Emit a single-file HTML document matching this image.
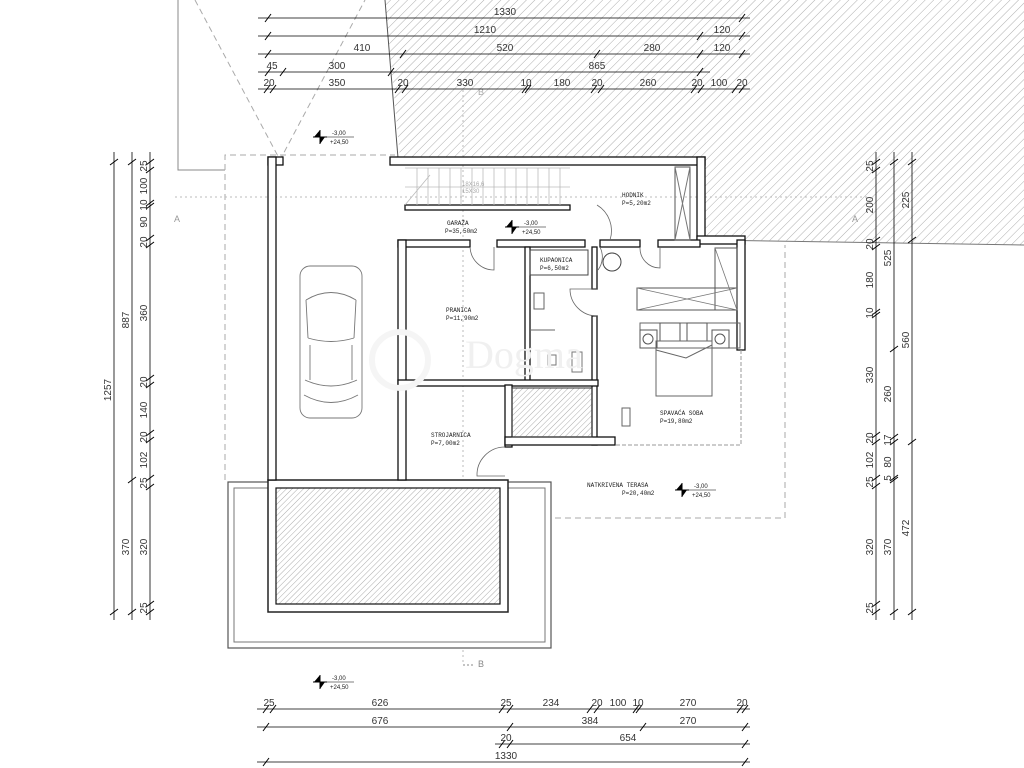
<!DOCTYPE html>
<html><head><meta charset="utf-8"><style>
html,body{margin:0;padding:0;background:#fff;width:1024px;height:768px;overflow:hidden}
svg{display:block}
text{font-family:"Liberation Sans",sans-serif;fill:#444}
.d{font-size:10px;fill:#333}
.r{font-family:"Liberation Mono",monospace;font-size:6px;fill:#222}
</style></head><body>
<svg width="1024" height="768" viewBox="0 0 1024 768" xmlns="http://www.w3.org/2000/svg">
<defs>
<pattern id="h" width="6" height="6" patternUnits="userSpaceOnUse" patternTransform="rotate(45)">
<line x1="0" y1="0" x2="0" y2="6" stroke="#999" stroke-width="0.8"/></pattern>
<pattern id="h2" width="4" height="4" patternUnits="userSpaceOnUse" patternTransform="rotate(45)">
<line x1="0" y1="0" x2="0" y2="4" stroke="#888" stroke-width="0.7"/></pattern>
<g id="tk"><line x1="-3" y1="4" x2="3" y2="-4" stroke="#000" stroke-width="1"/></g>
<g id="tv"><line x1="-4" y1="3" x2="4" y2="-3" stroke="#000" stroke-width="1"/></g>
<g id="elev"><path d="M0,-7 L0,7 M-7,0 L7,0" stroke="#000" stroke-width="1"/><path d="M0,-7 L-6,0 L0,0Z M0,0 L0,7 L5,0Z" fill="#000"/><line x1="3" y1="0" x2="34" y2="0" stroke="#000" stroke-width="0.6"/><text x="12" y="-2" style="font-size:6px;fill:#222">-3,00</text><text x="10" y="7" style="font-size:6px;fill:#222">+24,50</text></g>
</defs>

<path d="M385,0 L1024,0 L1024,245 L750,240 L705,240 L705,157 L400,157 Z" fill="url(#h)"/>
<line x1="385" y1="0" x2="398" y2="158" stroke="#555" stroke-width="1"/>
<line x1="705" y1="240" x2="1024" y2="245" stroke="#777" stroke-width="1"/>
<path d="M178,0 L178,170 L225,170" fill="none" stroke="#888" stroke-width="1"/>
<path d="M195,0 L280,160 L365,0" fill="none" stroke="#aaa" stroke-width="1" stroke-dasharray="6,4"/>
<path d="M225,480 L225,155 L395,155" fill="none" stroke="#aaa" stroke-dasharray="6,4"/>
<path d="M505,518 L785,518 L785,245" fill="none" stroke="#aaa" stroke-dasharray="6,4"/>
<path d="M228,612 L268,612" fill="none" stroke="#aaa" stroke-dasharray="6,4"/>
<line x1="175" y1="197" x2="870" y2="197" stroke="#bbb" stroke-dasharray="2,3"/>
<text x="174" y="222" style="font-size:9px;fill:#999">A</text>
<text x="852" y="222" style="font-size:9px;fill:#999">A</text>
<line x1="463" y1="90" x2="463" y2="665" stroke="#bbb" stroke-dasharray="2,3"/>
<text x="478" y="95" style="font-size:9px;fill:#aaa">B</text>
<text x="478" y="667" style="font-size:9px;fill:#888">B</text>
<line x1="463" y1="665" x2="474" y2="665" stroke="#888" stroke-dasharray="2,2"/>

<rect x="228" y="482" width="323" height="166" fill="#fff" stroke="#555" stroke-width="1.2"/>
<rect x="234" y="488" width="311" height="154" fill="none" stroke="#777" stroke-width="1"/>
<rect x="268" y="480" width="240" height="132" fill="#fff" stroke="#222" stroke-width="1.5"/>
<rect x="276" y="488" width="224" height="116" fill="url(#h2)" stroke="#111" stroke-width="1.2"/>

<g fill="#fff" stroke="#111" stroke-width="1.3">
<rect x="268" y="157" width="15" height="8"/>
<rect x="390" y="157" width="315" height="8"/>
<rect x="268" y="157" width="8" height="323"/>
<rect x="697" y="157" width="8" height="83"/>
<rect x="697" y="236" width="48" height="8"/>
<rect x="737" y="240" width="8" height="110"/>
<rect x="398" y="240" width="72" height="7"/>
<rect x="497" y="240" width="88" height="7"/>
<rect x="600" y="240" width="40" height="7"/>
<rect x="658" y="240" width="42" height="7"/>
<rect x="398" y="240" width="8" height="240"/>
<rect x="525" y="247" width="5" height="135"/>
<rect x="592" y="247" width="5" height="42"/>
<rect x="592" y="316" width="5" height="129"/>
<rect x="398" y="380" width="200" height="6"/>
<rect x="505" y="385" width="7" height="62"/>
<rect x="505" y="437" width="110" height="8"/>
<rect x="405" y="205" width="165" height="5"/>
</g>
<path d="M741,350 L741,445 L615,445" fill="none" stroke="#999" stroke-width="1" stroke-dasharray="4,2"/>
<rect x="512" y="388" width="80" height="49" fill="url(#h2)" stroke="#333"/>
<g stroke="#bbb" stroke-width="0.8">
<line x1="405" y1="168" x2="570" y2="168"/><line x1="405" y1="187" x2="570" y2="187"/>
<line x1="405" y1="205" x2="430" y2="175"/>
</g>
<path d="M417,168v37M428,168v37M439,168v37M450,168v37M461,168v37M472,168v37M483,168v37M494,168v37M505,168v37M516,168v37M527,168v37M538,168v37M549,168v37M560,168v37" stroke="#bbb" stroke-width="0.8"/>
<text x="462" y="186" style="font-size:6px;fill:#aaa">18X16,6</text>
<text x="462" y="193" style="font-size:6px;fill:#aaa">15X30</text>
<rect x="675" y="167" width="15" height="73" fill="none" stroke="#555"/>
<path d="M675,167 L690,240 M690,167 L675,240" stroke="#777"/>
<rect x="715" y="248" width="22" height="62" fill="none" stroke="#555"/>
<rect x="637" y="288" width="100" height="22" fill="none" stroke="#555"/>
<path d="M637,288 L737,310 M637,310 L737,288 M715,248 L737,310" stroke="#777" stroke-width="0.8"/>
<rect x="640" y="323" width="100" height="25" fill="none" stroke="#666"/>
<rect x="660" y="323" width="20" height="18" fill="none" stroke="#555"/>
<rect x="687" y="323" width="20" height="18" fill="none" stroke="#555"/>
<rect x="640" y="330" width="17" height="18" fill="none" stroke="#555"/><circle cx="648" cy="339" r="5" fill="none" stroke="#555"/>
<rect x="712" y="330" width="17" height="18" fill="none" stroke="#555"/><circle cx="720" cy="339" r="5" fill="none" stroke="#555"/>
<rect x="656" y="341" width="56" height="55" fill="none" stroke="#666"/>
<path d="M656,350 L686,358 L712,345" fill="none" stroke="#666"/>
<rect x="622" y="408" width="8" height="18" fill="none" stroke="#666"/>
<rect x="530" y="250" width="58" height="25" fill="none" stroke="#444"/>
<circle cx="612" cy="262" r="9" fill="none" stroke="#444"/>
<rect x="534" y="293" width="10" height="16" fill="none" stroke="#666"/>
<line x1="530" y1="330" x2="555" y2="330" stroke="#666"/>
<rect x="548" y="355" width="8" height="10" fill="none" stroke="#777"/>
<rect x="572" y="352" width="10" height="20" fill="none" stroke="#777"/>
<g fill="none" stroke="#666" stroke-width="0.8">
<path d="M470,247 A24,24 0 0 0 494,270 L494,247"/>
<path d="M600,247 A22,22 0 0 1 598,270"/>
<path d="M640,247 A20,20 0 0 0 660,268 L660,247"/>
<path d="M597,289 L570,289 A27,27 0 0 0 597,316"/>
<path d="M505,447 A28,28 0 0 0 477,476 L505,476"/>
<path d="M597,205 A30,30 0 0 1 610,240"/>
</g>
<g fill="none" stroke="#777" stroke-width="0.9">
<rect x="300" y="266" width="62" height="152" rx="10"/>
<path d="M306,300 Q331,285 356,300 M308,338 Q331,345 354,338 M305,380 Q331,392 357,380 M306,300 L308,338 M356,300 L354,338 M310,345 L310,380 M352,345 L352,380 M304,395 Q331,410 358,395"/>
</g>
<text x="465" y="368" style="font-size:40px;fill:#f0f0f0;font-family:'Liberation Serif',serif">Dogma</text>
<circle cx="400" cy="360" r="28" fill="none" stroke="#f5f5f5" stroke-width="6"/>

<text class="r" x="447" y="225">GARAŽA</text><text class="r" x="445" y="233">P=35,50m2</text>
<text class="r" x="622" y="197">HODNIK</text><text class="r" x="622" y="205">P=5,20m2</text>
<text class="r" x="540" y="262">KUPAONICA</text><text class="r" x="540" y="270">P=6,50m2</text>
<text class="r" x="446" y="312">PRANICA</text><text class="r" x="446" y="320">P=11,90m2</text>
<text class="r" x="431" y="437">STROJARNICA</text><text class="r" x="431" y="445">P=7,00m2</text>
<text class="r" x="660" y="415">SPAVAĆA SOBA</text><text class="r" x="660" y="423">P=19,80m2</text>
<text class="r" x="587" y="487">NATKRIVENA TERASA</text><text class="r" x="622" y="495">P=20,40m2</text>

<use href="#elev" x="320" y="137"/>
<use href="#elev" x="512" y="227"/>
<use href="#elev" x="682" y="490"/>
<use href="#elev" x="320" y="682"/>

<g stroke="#000" stroke-width="0.8">
<line x1="258" y1="18" x2="750" y2="18"/><line x1="258" y1="36" x2="750" y2="36"/>
<line x1="258" y1="54" x2="750" y2="54"/><line x1="258" y1="72" x2="710" y2="72"/>
<line x1="258" y1="89" x2="750" y2="89"/>
</g>
<use href="#tk" x="268" y="18"/><use href="#tk" x="742" y="18"/>
<use href="#tk" x="268" y="36"/><use href="#tk" x="700" y="36"/><use href="#tk" x="742" y="36"/>
<use href="#tk" x="268" y="54"/><use href="#tk" x="403" y="54"/><use href="#tk" x="597" y="54"/><use href="#tk" x="700" y="54"/><use href="#tk" x="742" y="54"/>
<use href="#tk" x="268" y="72"/><use href="#tk" x="283" y="72"/><use href="#tk" x="391" y="72"/><use href="#tk" x="700" y="72"/>
<use href="#tk" x="267" y="89"/><use href="#tk" x="273" y="89"/><use href="#tk" x="398" y="89"/><use href="#tk" x="405" y="89"/><use href="#tk" x="525" y="89"/><use href="#tk" x="528" y="89"/><use href="#tk" x="594" y="89"/><use href="#tk" x="601" y="89"/><use href="#tk" x="694" y="89"/><use href="#tk" x="701" y="89"/><use href="#tk" x="735" y="89"/><use href="#tk" x="742" y="89"/>
<g text-anchor="middle">
<text class="d" x="505" y="15">1330</text>
<text class="d" x="485" y="33">1210</text><text class="d" x="722" y="33">120</text>
<text class="d" x="362" y="51">410</text><text class="d" x="505" y="51">520</text><text class="d" x="652" y="51">280</text><text class="d" x="722" y="51">120</text>
<text class="d" x="272" y="69">45</text><text class="d" x="337" y="69">300</text><text class="d" x="597" y="69">865</text>
<text class="d" x="269" y="86">20</text><text class="d" x="337" y="86">350</text><text class="d" x="403" y="86">20</text><text class="d" x="465" y="86">330</text><text class="d" x="526" y="86">10</text><text class="d" x="562" y="86">180</text><text class="d" x="597" y="86">20</text><text class="d" x="648" y="86">260</text><text class="d" x="697" y="86">20</text><text class="d" x="719" y="86">100</text><text class="d" x="742" y="86">20</text>
</g>

<g stroke="#000" stroke-width="0.8">
<line x1="257" y1="709" x2="750" y2="709"/><line x1="257" y1="727" x2="750" y2="727"/>
<line x1="495" y1="744" x2="750" y2="744"/><line x1="257" y1="762" x2="750" y2="762"/>
</g>
<use href="#tk" x="266" y="709"/><use href="#tk" x="273" y="709"/><use href="#tk" x="502" y="709"/><use href="#tk" x="510" y="709"/><use href="#tk" x="590" y="709"/><use href="#tk" x="597" y="709"/><use href="#tk" x="636" y="709"/><use href="#tk" x="639" y="709"/><use href="#tk" x="740" y="709"/><use href="#tk" x="745" y="709"/>
<use href="#tk" x="266" y="727"/><use href="#tk" x="510" y="727"/><use href="#tk" x="643" y="727"/><use href="#tk" x="745" y="727"/>
<use href="#tk" x="502" y="744"/><use href="#tk" x="510" y="744"/><use href="#tk" x="745" y="744"/>
<use href="#tk" x="266" y="762"/><use href="#tk" x="745" y="762"/>
<g text-anchor="middle">
<text class="d" x="269" y="706">25</text><text class="d" x="380" y="706">626</text><text class="d" x="506" y="706">25</text><text class="d" x="551" y="706">234</text><text class="d" x="597" y="706">20</text><text class="d" x="618" y="706">100</text><text class="d" x="638" y="706">10</text><text class="d" x="688" y="706">270</text><text class="d" x="742" y="706">20</text>
<text class="d" x="380" y="724">676</text><text class="d" x="590" y="724">384</text><text class="d" x="688" y="724">270</text>
<text class="d" x="506" y="741">20</text><text class="d" x="628" y="741">654</text>
<text class="d" x="506" y="759">1330</text>
</g>

<g stroke="#000" stroke-width="0.8">
<line x1="114" y1="152" x2="114" y2="620"/><line x1="132" y1="152" x2="132" y2="620"/><line x1="150" y1="152" x2="150" y2="620"/>
</g>
<use href="#tv" x="114" y="162"/><use href="#tv" x="114" y="612"/>
<use href="#tv" x="132" y="162"/><use href="#tv" x="132" y="480"/><use href="#tv" x="132" y="612"/>
<use href="#tv" x="150" y="162"/><use href="#tv" x="150" y="170"/><use href="#tv" x="150" y="203"/><use href="#tv" x="150" y="206"/><use href="#tv" x="150" y="238"/><use href="#tv" x="150" y="245"/><use href="#tv" x="150" y="378"/><use href="#tv" x="150" y="385"/><use href="#tv" x="150" y="433"/><use href="#tv" x="150" y="440"/><use href="#tv" x="150" y="478"/><use href="#tv" x="150" y="487"/><use href="#tv" x="150" y="604"/><use href="#tv" x="150" y="612"/>
<g text-anchor="middle">
<text class="d" transform="translate(111,390) rotate(-90)">1257</text>
<text class="d" transform="translate(129,320) rotate(-90)">887</text>
<text class="d" transform="translate(129,547) rotate(-90)">370</text>
<text class="d" transform="translate(147,166) rotate(-90)">25</text>
<text class="d" transform="translate(147,186) rotate(-90)">100</text>
<text class="d" transform="translate(147,205) rotate(-90)">10</text>
<text class="d" transform="translate(147,222) rotate(-90)">90</text>
<text class="d" transform="translate(147,242) rotate(-90)">20</text>
<text class="d" transform="translate(147,313) rotate(-90)">360</text>
<text class="d" transform="translate(147,382) rotate(-90)">20</text>
<text class="d" transform="translate(147,410) rotate(-90)">140</text>
<text class="d" transform="translate(147,437) rotate(-90)">20</text>
<text class="d" transform="translate(147,460) rotate(-90)">102</text>
<text class="d" transform="translate(147,483) rotate(-90)">25</text>
<text class="d" transform="translate(147,547) rotate(-90)">320</text>
<text class="d" transform="translate(147,608) rotate(-90)">25</text>
</g>

<g stroke="#000" stroke-width="0.8">
<line x1="876" y1="152" x2="876" y2="620"/><line x1="894" y1="152" x2="894" y2="620"/><line x1="912" y1="152" x2="912" y2="620"/>
</g>
<use href="#tv" x="876" y="162"/><use href="#tv" x="876" y="170"/><use href="#tv" x="876" y="240"/><use href="#tv" x="876" y="247"/><use href="#tv" x="876" y="312"/><use href="#tv" x="876" y="315"/><use href="#tv" x="876" y="435"/><use href="#tv" x="876" y="442"/><use href="#tv" x="876" y="478"/><use href="#tv" x="876" y="486"/><use href="#tv" x="876" y="604"/><use href="#tv" x="876" y="612"/>
<use href="#tv" x="894" y="162"/><use href="#tv" x="894" y="349"/><use href="#tv" x="894" y="437"/><use href="#tv" x="894" y="442"/><use href="#tv" x="894" y="478"/><use href="#tv" x="894" y="480"/><use href="#tv" x="894" y="612"/>
<use href="#tv" x="912" y="162"/><use href="#tv" x="912" y="240"/><use href="#tv" x="912" y="442"/><use href="#tv" x="912" y="612"/>
<g text-anchor="middle">
<text class="d" transform="translate(873,166) rotate(-90)">25</text>
<text class="d" transform="translate(873,205) rotate(-90)">200</text>
<text class="d" transform="translate(873,244) rotate(-90)">20</text>
<text class="d" transform="translate(873,280) rotate(-90)">180</text>
<text class="d" transform="translate(873,313) rotate(-90)">10</text>
<text class="d" transform="translate(873,375) rotate(-90)">330</text>
<text class="d" transform="translate(873,438) rotate(-90)">20</text>
<text class="d" transform="translate(873,460) rotate(-90)">102</text>
<text class="d" transform="translate(873,482) rotate(-90)">25</text>
<text class="d" transform="translate(873,547) rotate(-90)">320</text>
<text class="d" transform="translate(873,608) rotate(-90)">25</text>
<text class="d" transform="translate(891,258) rotate(-90)">525</text>
<text class="d" transform="translate(891,394) rotate(-90)">260</text>
<text class="d" transform="translate(891,440) rotate(-90)">17</text>
<text class="d" transform="translate(891,462) rotate(-90)">80</text>
<text class="d" transform="translate(891,478) rotate(-90)">5</text>
<text class="d" transform="translate(891,547) rotate(-90)">370</text>
<text class="d" transform="translate(909,200) rotate(-90)">225</text>
<text class="d" transform="translate(909,340) rotate(-90)">560</text>
<text class="d" transform="translate(909,528) rotate(-90)">472</text>
</g>
</svg>
</body></html>
